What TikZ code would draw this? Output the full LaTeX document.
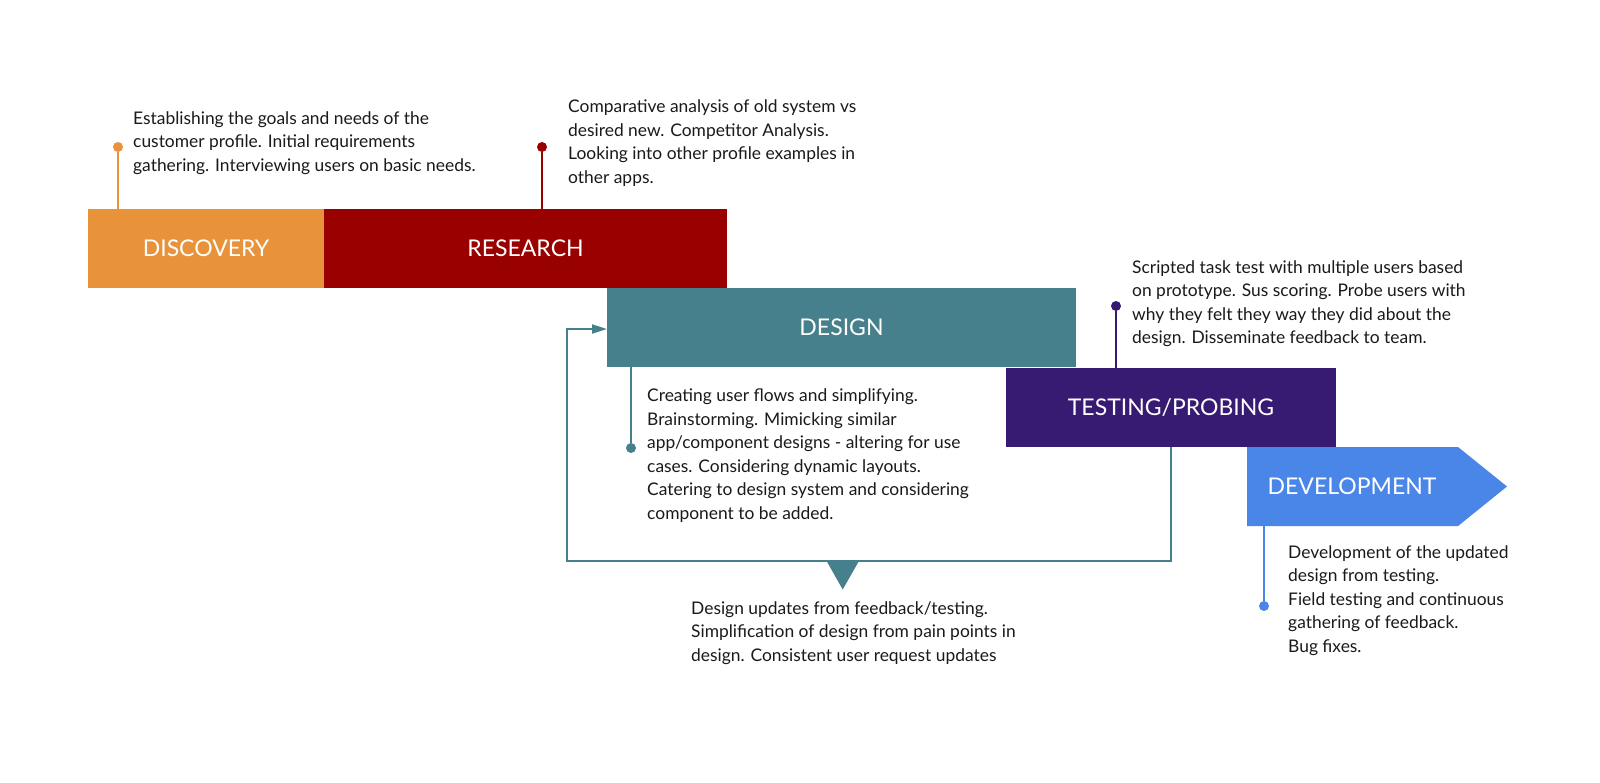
\documentclass[tikz,border=0pt]{standalone}
\usepackage{fontspec}
\setmainfont{Lato}
\usetikzlibrary{arrows.meta}
\definecolor{cOrange}{HTML}{E8923A}
\definecolor{cRed}{HTML}{990000}
\definecolor{cTeal}{HTML}{46808C}
\definecolor{cPurple}{HTML}{371B73}
\definecolor{cBlue}{HTML}{4A86E8}
\definecolor{cText}{HTML}{1A1A1A}
\newcommand{\mylines}[1]{\begin{tabular}[t]{@{}l@{}}#1\end{tabular}}
\tikzset{
  phase/.style={draw=none, inner sep=0pt, text=white, font=\fontsize{23}{28}\selectfont},
  desc/.style={anchor=base west, inner sep=0pt, text=cText, font=\fontsize{17.4}{23.5}\selectfont},
  pin/.style={circle, inner sep=0pt, minimum size=10pt},
  stem/.style={line width=2pt},
  loopline/.style={draw=cTeal, line width=2pt},
}
\begin{document}
\begin{tikzpicture}[x=1pt, y=-1pt]
\useasboundingbox[fill=white] (0,0) rectangle (1600,782);

% phase boxes
\node[phase, fill=cOrange, minimum width=236pt, minimum height=79pt] (disc) at (206,248.5) {DISCOVERY};
\node[phase, fill=cRed, minimum width=403pt, minimum height=79pt] (res) at (525.5,248.5) {RESEARCH};
\node[phase, fill=cTeal, minimum width=469pt, minimum height=79pt] (design) at (841.5,327.5) {DESIGN};
\node[phase, fill=cPurple, minimum width=330pt, minimum height=79pt] (test) at (1171,407.5) {TESTING/PROBING};
\fill[cBlue] (1247,447) -- (1458,447) -- (1507,486.5) -- (1458,526) -- (1247,526) -- cycle;
\node[phase] (dev) at (1352,486.5) {DEVELOPMENT};
\coordinate (devbottom) at (1264,526);

% pins
\node[pin, fill=cOrange] (p1) at (118,147) {};
\draw[stem, cOrange] (p1) -- (p1 |- disc.north);
\node[pin, fill=cRed] (p2) at (542,147) {};
\draw[stem, cRed] (p2) -- (p2 |- res.north);
\node[pin, fill=cTeal] (p3) at (631,448) {};
\draw[stem, cTeal] (p3 |- design.south) -- (p3);
\node[pin, fill=cPurple] (p4) at (1116,306) {};
\draw[stem, cPurple] (p4) -- (p4 |- test.north);
\node[pin, fill=cBlue] (p5) at (1264,606) {};
\draw[stem, cBlue] (devbottom) -- (p5);

% feedback loop
\coordinate (lr) at (1171,560.5);
\coordinate (ll) at (567,560.5);
\coordinate (la) at (607,329);
\draw[loopline, -{Triangle[length=15pt,width=9pt]}] (test.south) -- (lr) -- (ll) |- (la);
\fill[cTeal] (826,560) -- (859.5,560) -- (842.7,589.5) -- cycle;

% descriptions
\node[desc] (t1) at (133,124.3) {\mylines{Establishing the goals and needs of the\\customer profile. Initial requirements\\gathering. Interviewing users on basic needs.}};
\node[desc] (t2) at (568,112.7) {\mylines{Comparative analysis of old system vs\\desired new. Competitor Analysis.\\Looking into other profile examples in\\other apps.}};
\node[desc] (t3) at (647,401.7) {\mylines{Creating user flows and simplifying.\\Brainstorming. Mimicking similar\\app/component designs - altering for use\\cases. Considering dynamic layouts.\\Catering to design system and considering\\component to be added.}};
\node[desc] (t4) at (1132,273.3) {\mylines{Scripted task test with multiple users based\\on prototype. Sus scoring. Probe users with\\why they felt they way they did about the\\design. Disseminate feedback to team.}};
\node[desc] (t5) at (1288,558.3) {\mylines{Development of the updated\\design from testing.\\Field testing and continuous\\gathering of feedback.\\Bug fixes.}};
\node[desc] (t6) at (691,614.3) {\mylines{Design updates from feedback/testing.\\Simplification of design from pain points in\\design. Consistent user request updates}};
\end{tikzpicture}
\end{document}
